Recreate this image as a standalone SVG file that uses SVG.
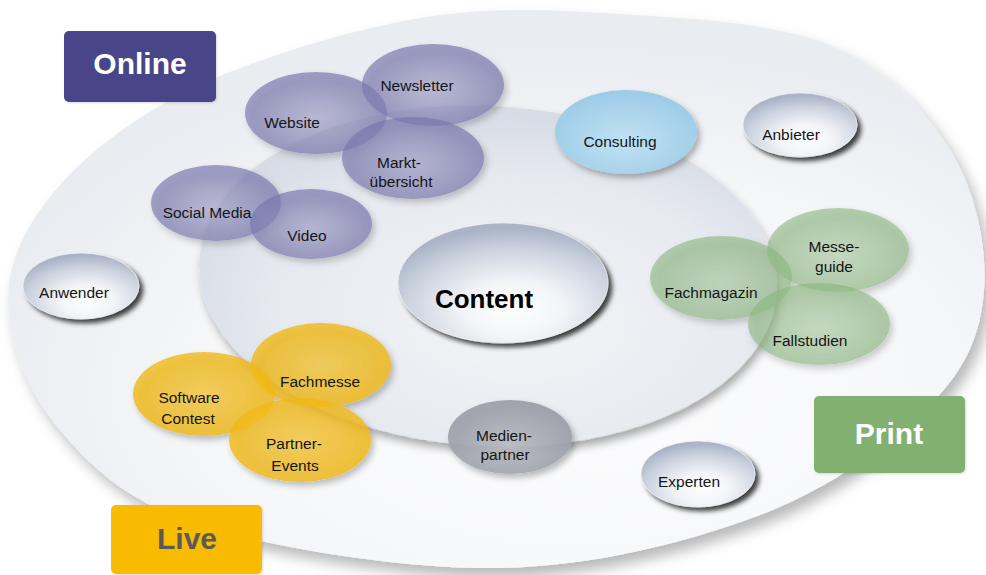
<svg xmlns="http://www.w3.org/2000/svg" width="986" height="575" viewBox="0 0 986 575">
<defs>
<style>
.lbl{font-family:"Liberation Sans",Arial,sans-serif;font-size:15.5px;fill:#151515;text-anchor:middle}
.big{font-family:"Liberation Sans",Arial,sans-serif;font-weight:bold;font-size:30px;text-anchor:middle}
.purple{fill:url(#gPurple)}
.yellow{fill:url(#gYellow)}
.green{fill:url(#gGreen)}
.glass{fill:url(#gGlass);stroke:#ffffff;stroke-opacity:.5;stroke-width:1}
</style>
<radialGradient id="gOuter" cx="58%" cy="68%" r="62%">
<stop offset="0" stop-color="#fdfdfe"/>
<stop offset="0.6" stop-color="#f6f7f9"/>
<stop offset="1" stop-color="#e9ecf1"/>
</radialGradient>
<radialGradient id="gInner" cx="55%" cy="62%" r="60%">
<stop offset="0" stop-color="#f3f5f8"/>
<stop offset="0.7" stop-color="#e6e9ef"/>
<stop offset="1" stop-color="#d7dce5"/>
</radialGradient>
<radialGradient id="gGlass" cx="55%" cy="72%" r="68%">
<stop offset="0" stop-color="#ffffff"/>
<stop offset="0.35" stop-color="#f2f4f8"/>
<stop offset="0.75" stop-color="#cbd2de"/>
<stop offset="1" stop-color="#aab4c6"/>
</radialGradient>
<radialGradient id="gPurple" cx="50%" cy="55%" r="60%">
<stop offset="0" stop-color="#9a98c8" stop-opacity="0.5"/>
<stop offset="1" stop-color="#716fa8" stop-opacity="0.68"/>
</radialGradient>
<radialGradient id="gYellow" cx="50%" cy="50%" r="60%">
<stop offset="0" stop-color="#f8c83a" stop-opacity="0.75"/>
<stop offset="1" stop-color="#efb50c" stop-opacity="0.8"/>
</radialGradient>
<radialGradient id="gGreen" cx="50%" cy="55%" r="60%">
<stop offset="0" stop-color="#a9cc9f" stop-opacity="0.5"/>
<stop offset="1" stop-color="#86b37a" stop-opacity="0.62"/>
</radialGradient>
<radialGradient id="gBlue" cx="50%" cy="60%" r="60%">
<stop offset="0" stop-color="#c0e2f3"/>
<stop offset="1" stop-color="#9ccbe6"/>
</radialGradient>
<radialGradient id="gGray" cx="50%" cy="60%" r="60%">
<stop offset="0" stop-color="#b9bcc3" stop-opacity="0.85"/>
<stop offset="1" stop-color="#979ba4" stop-opacity="0.9"/>
</radialGradient>
<filter id="fOuter" x="-10%" y="-10%" width="125%" height="130%">
<feDropShadow dx="6" dy="9" stdDeviation="7" flood-color="#000" flood-opacity="0.28"/>
</filter>
<filter id="fInner" x="-10%" y="-10%" width="125%" height="130%">
<feDropShadow dx="3" dy="6" stdDeviation="4" flood-color="#000" flood-opacity="0.33"/>
</filter>
<filter id="fGlass" x="-20%" y="-20%" width="150%" height="160%">
<feDropShadow dx="4" dy="4" stdDeviation="2.5" flood-color="#000" flood-opacity="0.75"/>
</filter>
<filter id="fSoft" x="-20%" y="-20%" width="150%" height="160%">
<feDropShadow dx="3" dy="4" stdDeviation="3" flood-color="#000" flood-opacity="0.3"/>
</filter>
<filter id="fBox" x="-10%" y="-10%" width="130%" height="130%">
<feDropShadow dx="1" dy="1" stdDeviation="1" flood-color="#000" flood-opacity="0.15"/>
</filter>
</defs>
<rect width="986" height="575" fill="#ffffff"/>

<g id="background">
<path filter="url(#fOuter)" fill="url(#gOuter)" d="M8,300 C8,259.2 28,220.8 60,185 C92,149.2 140,112.8 200,85 C260,57.2 350,29.8 420,18 C490,6.2 551.7,9.5 620,14 C688.3,18.5 775,22.3 830,45 C885,67.7 924.3,109.2 950,150 C975.7,190.8 987.3,247.5 984,290 C980.7,332.5 967.3,367.5 930,405 C892.7,442.5 831.7,487.8 760,515 C688.3,542.2 593.3,566.3 500,568 C406.7,569.7 273.3,548 200,525 C126.7,502 92,467.5 60,430 C28,392.5 8,340.8 8,300 Z"/>
<ellipse filter="url(#fInner)" fill="url(#gInner)" cx="488" cy="276" rx="289" ry="170" transform="rotate(3 488 276)"/>
</g>

<g id="connectors"/>

<g id="online-cluster" filter="url(#fSoft)">
<g id="node-website"><ellipse class="purple" cx="316" cy="113" rx="71" ry="41"/></g>
<g id="node-newsletter"><ellipse class="purple" cx="433" cy="85" rx="71" ry="41"/></g>
<g id="node-marktuebersicht"><ellipse class="purple" cx="413" cy="158" rx="71" ry="41"/></g>
</g>
<g id="online-cluster2" filter="url(#fSoft)">
<g id="node-socialmedia"><ellipse class="purple" cx="216" cy="203" rx="65" ry="38"/></g>
<g id="node-video"><ellipse class="purple" cx="311" cy="224" rx="61" ry="35"/></g>
</g>
<g id="live-cluster" filter="url(#fSoft)">
<g id="node-fachmesse"><ellipse class="yellow" cx="321" cy="365" rx="70" ry="42"/></g>
<g id="node-softwarecontest"><ellipse class="yellow" cx="204" cy="394" rx="71" ry="42"/></g>
<g id="node-partnerevents"><ellipse class="yellow" cx="300" cy="440" rx="71" ry="42"/></g>
</g>
<g id="print-cluster" filter="url(#fSoft)">
<g id="node-messeguide"><ellipse class="green" cx="838" cy="250" rx="71" ry="42"/></g>
<g id="node-fachmagazin"><ellipse class="green" cx="721" cy="278" rx="71" ry="42"/></g>
<g id="node-fallstudien"><ellipse class="green" cx="819" cy="324" rx="71" ry="41"/></g>
</g>
<g id="node-consulting"><ellipse filter="url(#fSoft)" fill="url(#gBlue)" cx="626" cy="132" rx="71" ry="42"/></g>
<g id="node-medienpartner"><ellipse filter="url(#fSoft)" fill="url(#gGray)" cx="510" cy="437" rx="62" ry="37"/></g>
<g id="node-content"><ellipse class="glass" filter="url(#fGlass)" cx="503" cy="283" rx="105" ry="60"/></g>
<g id="node-anbieter"><ellipse class="glass" filter="url(#fGlass)" cx="800" cy="125" rx="57" ry="32"/></g>
<g id="node-anwender"><ellipse class="glass" filter="url(#fGlass)" cx="81" cy="286" rx="58" ry="33"/></g>
<g id="node-experten"><ellipse class="glass" filter="url(#fGlass)" cx="698" cy="474" rx="57" ry="33"/></g>

<g id="labels">
<text class="lbl" x="292" y="128">Website</text>
<text class="lbl" x="417" y="91">Newsletter</text>
<text class="lbl" x="399" y="168">Markt-</text>
<text class="lbl" x="401" y="187">übersicht</text>
<text class="lbl" x="207" y="218">Social Media</text>
<text class="lbl" x="307" y="241">Video</text>
<text class="lbl" x="620" y="147">Consulting</text>
<text class="lbl" x="791" y="140">Anbieter</text>
<text class="lbl" x="834" y="252">Messe-</text>
<text class="lbl" x="834" y="272">guide</text>
<text class="lbl" x="711" y="298">Fachmagazin</text>
<text class="lbl" x="810" y="346">Fallstudien</text>
<text class="lbl" x="74" y="298">Anwender</text>
<text class="lbl" x="189" y="403">Software</text>
<text class="lbl" x="188" y="424">Contest</text>
<text class="lbl" x="320" y="387">Fachmesse</text>
<text class="lbl" x="294" y="449">Partner-</text>
<text class="lbl" x="295" y="471">Events</text>
<text class="lbl" x="504" y="441">Medien-</text>
<text class="lbl" x="505" y="460">partner</text>
<text class="lbl" x="689" y="487">Experten</text>
<text x="484" y="308" style="font-family:'Liberation Sans',Arial,sans-serif;font-weight:bold;font-size:26px;fill:#000;text-anchor:middle">Content</text>
</g>

<g id="box-online"><rect filter="url(#fBox)" x="64" y="31" width="152" height="71" rx="5" fill="#484489"/><text class="big" x="140" y="74" fill="#ffffff">Online</text></g>
<g id="box-print"><rect filter="url(#fBox)" x="814" y="396" width="151" height="77" rx="5" fill="#81b071"/><text class="big" x="889" y="444" fill="#ffffff">Print</text></g>
<g id="box-live"><rect filter="url(#fBox)" x="111" y="505" width="151" height="69" rx="5" fill="#f9bb00"/><text class="big" x="187" y="549" fill="#5a5a5a">Live</text></g>
</svg>
